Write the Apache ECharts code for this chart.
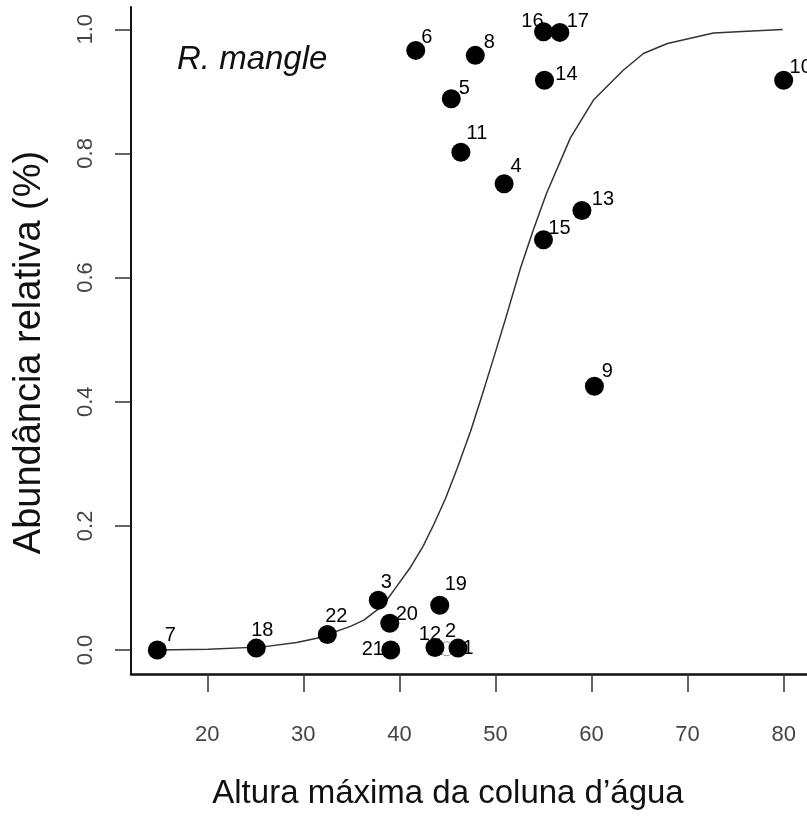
<!DOCTYPE html>
<html>
<head>
<meta charset="utf-8">
<script src="https://cdn.jsdelivr.net/npm/echarts@6/dist/echarts.min.js"></script>
<style>html,body{margin:0;padding:0;background:#fff}#c{width:807px;height:830px}</style>
</head>
<body>
<div id="c"></div>
<script>
// Site ids
const siteIds = ['1','2','3','4','5','6','7','8','9','10','11','12','13','14','15','16','17','18','19','20','21','22'];
// Altura máxima da coluna d'água
const siteX = [46.1, 44.9, 37.8, 50.9, 45.4, 41.7, 14.8, 47.9, 60.3, 80.0, 46.4, 43.7, 59.0, 55.1, 55.0, 55.0, 56.7, 25.1, 44.2, 39.0, 39.1, 32.5];
// Abundância relativa
const siteY = [0.003, 0.002, 0.080, 0.751, 0.888, 0.966, 0.000, 0.958, 0.425, 0.918, 0.802, 0.004, 0.708, 0.918, 0.661, 0.996, 0.995, 0.003, 0.072, 0.043, 0.000, 0.025];
// fitted curve
const curveX = [14.8, 20.1, 25.8, 29.3, 31.4, 34.9, 36.3, 38.3, 39.7, 41.1, 42.5, 43.6, 44.8, 46.0, 47.4, 48.6, 49.7, 51.0, 52.6, 53.9, 55.3, 57.8, 60.2, 63.3, 65.4, 67.9, 72.7, 76.2, 79.9];
const curveY = [0.000, 0.001, 0.005, 0.012, 0.019, 0.038, 0.048, 0.072, 0.102, 0.132, 0.168, 0.203, 0.244, 0.292, 0.352, 0.410, 0.465, 0.531, 0.615, 0.675, 0.735, 0.825, 0.886, 0.934, 0.961, 0.977, 0.994, 0.997, 0.9995];
// tick labels
const xTicks = [20, 30, 40, 50, 60, 70, 80];
const yTicks = [0.0, 0.2, 0.4, 0.6, 0.8, 1.0];

// label placement (style), in pixels relative to point
const labelOffsets = {
  '1':[10,0],'2':[4,-17],'3':[8,-18],'4':[12,-17],'5':[13,-10],'6':[11,-13],'7':[13,-14],'8':[14,-13],
  '9':[13,-15],'10':[17,-13],'11':[16,-19],'12':[-5,-13],'13':[21,-11],'14':[22,-6],'15':[16,-11],
  '16':[-11,-10],'17':[18,-11],'18':[6,-18],'19':[16,-21],'20':[17,-9],'21':[-18,0],'22':[9,-18]
};
const hollowIds = ['2'];

const FONT = 'Liberation Sans, Arial, sans-serif';
const filled = [], hollow = [];
siteIds.forEach((id, i) => {
  const item = { name: id, value: [siteX[i], siteY[i]], label: { offset: labelOffsets[id] } };
  (hollowIds.includes(id) ? hollow : filled).push(item);
});
const curve = curveX.map((x, i) => [x, curveY[i]]);

const chart = echarts.init(document.getElementById('c'), null, { renderer: 'canvas' });
const labelStyle = {
  show: true, position: 'inside', formatter: p => p.name,
  color: '#000', opacity: 1, fontSize: 20, fontFamily: FONT
};
chart.setOption({
  animation: false,
  backgroundColor: '#fff',
  grid: { left: 131, top: 7, width: 676, height: 667, containLabel: false },
  xAxis: {
    type: 'value', min: 12.06, max: 82.43, splitNumber: 7,
    splitLine: { show: false },
    axisLine: { show: true, onZero: false, lineStyle: { color: '#111', width: 2.5 } },
    axisTick: { show: true, inside: false, length: 18, customValues: xTicks, lineStyle: { color: '#333', width: 1.5 } },
    axisLabel: { customValues: xTicks, margin: 50, color: '#444', fontSize: 22, fontFamily: FONT },
    name: 'Altura máxima da coluna d’água', nameLocation: 'middle', nameGap: 103,
    nameTextStyle: { color: '#111', fontSize: 33, fontFamily: FONT, padding: [0, 42, 0, 0] }
  },
  yAxis: {
    type: 'value', min: -0.0387, max: 1.0359, splitNumber: 5,
    splitLine: { show: false },
    axisLine: { show: true, onZero: false, lineStyle: { color: '#111', width: 2 } },
    axisTick: { show: true, inside: false, length: 16, customValues: yTicks, lineStyle: { color: '#333', width: 1.5 } },
    axisLabel: { customValues: yTicks, rotate: 90, margin: 34, color: '#444', fontSize: 22, fontFamily: FONT,
      formatter: v => v.toFixed(1) },
    name: 'Abundância relativa (%)', nameLocation: 'middle', nameGap: 82, nameRotate: 90,
    nameTextStyle: { color: '#111', fontSize: 38, fontFamily: FONT, padding: [0, 24, 0, 0] }
  },
  graphic: [{
    type: 'text', left: 177, top: 43,
    style: { text: 'R. mangle', fontSize: 33, fontStyle: 'italic', fontFamily: FONT, fill: '#111' }
  }],
  series: [
    { type: 'line', data: curve, showSymbol: false, symbol: 'none', smooth: false, z: 1,
      lineStyle: { color: '#333', width: 1.5 }, silent: true },
    { type: 'scatter', data: hollow, symbol: 'circle', symbolSize: 14, z: 2,
      itemStyle: { color: 'rgba(0,0,0,0)', borderColor: '#999', borderWidth: 1, opacity: 1 }, label: labelStyle },
    { type: 'scatter', data: filled, symbol: 'circle', symbolSize: 19, z: 3,
      itemStyle: { color: '#000', opacity: 1 }, label: labelStyle }
  ]
});
</script>
</body>
</html>
